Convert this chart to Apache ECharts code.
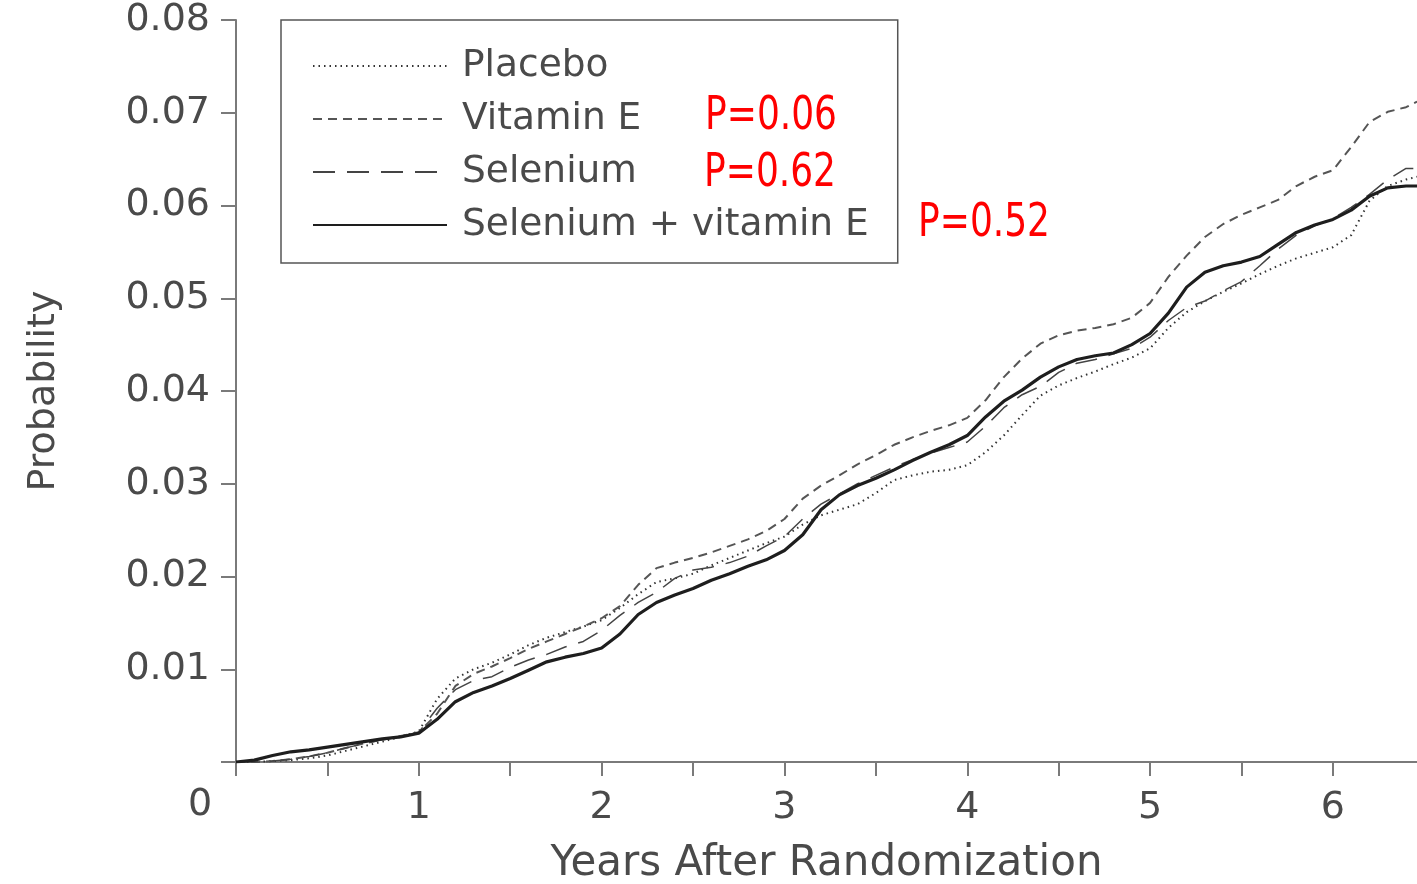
<!DOCTYPE html>
<html>
<head>
<meta charset="utf-8">
<script src="https://cdn.jsdelivr.net/npm/echarts@6/dist/echarts.min.js"></script>
<style>
  html, body { margin: 0; padding: 0; background: #fff; }
  #chart { width: 1417px; height: 884px; }
</style>
</head>
<body>
<div id="chart"></div>
<script>
// years after randomization
var years = [0, 0.1, 0.2, 0.3, 0.4, 0.5, 0.6, 0.7, 0.8, 0.9,
  1.0, 1.1, 1.2, 1.3, 1.4, 1.5, 1.6, 1.7, 1.8, 1.9,
  2.0, 2.1, 2.2, 2.3, 2.4, 2.5, 2.6, 2.7, 2.8, 2.9,
  3.0, 3.1, 3.2, 3.3, 3.4, 3.5, 3.6, 3.7, 3.8, 3.9,
  4.0, 4.1, 4.2, 4.3, 4.4, 4.5, 4.6, 4.7, 4.8, 4.9,
  5.0, 5.1, 5.2, 5.3, 5.4, 5.5, 5.6, 5.7, 5.8, 5.9,
  6.0, 6.1, 6.2, 6.3, 6.4, 6.46];

var placebo = [0, 0, 0.0001, 0.0002, 0.0004, 0.0007, 0.0012, 0.0017, 0.0022, 0.0027,
  0.0033, 0.0068, 0.0090, 0.0100, 0.0107, 0.0116, 0.0126, 0.0134, 0.0140, 0.0146,
  0.0153, 0.0166, 0.0181, 0.0194, 0.0198, 0.0203, 0.0212, 0.0220, 0.0228, 0.0236,
  0.0243, 0.0256, 0.0266, 0.0272, 0.0278, 0.0290, 0.0304, 0.0309, 0.0313, 0.0315,
  0.0320, 0.0334, 0.0352, 0.0374, 0.0395, 0.0406, 0.0414, 0.0421, 0.0429, 0.0436,
  0.0446, 0.0468, 0.0485, 0.0497, 0.0507, 0.0516, 0.0526, 0.0535, 0.0543, 0.0549,
  0.0555, 0.0568, 0.0605, 0.0621, 0.0628, 0.0631];

var vitaminE = [0, 0, 0.0001, 0.0003, 0.0006, 0.0010, 0.0015, 0.0020, 0.0024, 0.0028,
  0.0032, 0.0052, 0.0082, 0.0095, 0.0103, 0.0112, 0.0122, 0.0130, 0.0138, 0.0146,
  0.0155, 0.0168, 0.0191, 0.0209, 0.0215, 0.0220, 0.0226, 0.0233, 0.0240, 0.0249,
  0.0262, 0.0284, 0.0298, 0.0309, 0.0321, 0.0331, 0.0342, 0.0350, 0.0357, 0.0363,
  0.0371, 0.0390, 0.0415, 0.0435, 0.0451, 0.0460, 0.0465, 0.0468, 0.0472, 0.0479,
  0.0495, 0.0523, 0.0546, 0.0566, 0.0580, 0.0590, 0.0598, 0.0606, 0.0621, 0.0631,
  0.0638, 0.0663, 0.0690, 0.0701, 0.0706, 0.0712];

var selenium = [0, 0, 0.0001, 0.0003, 0.0006, 0.0010, 0.0015, 0.0020, 0.0024, 0.0028,
  0.0032, 0.0058, 0.0078, 0.0088, 0.0092, 0.0102, 0.0110, 0.0116, 0.0124, 0.0130,
  0.0142, 0.0158, 0.0172, 0.0183, 0.0198, 0.0207, 0.0210, 0.0215, 0.0222, 0.0233,
  0.0243, 0.0262, 0.0278, 0.0289, 0.0300, 0.0309, 0.0318, 0.0326, 0.0333, 0.0339,
  0.0345, 0.0362, 0.0382, 0.0396, 0.0405, 0.0420, 0.0430, 0.0434, 0.0440, 0.0446,
  0.0458, 0.0476, 0.0490, 0.0497, 0.0508, 0.0518, 0.0535, 0.0553, 0.0568, 0.0578,
  0.0586, 0.0598, 0.0612, 0.0628, 0.0640, 0.0640];

var seleniumVitE = [0, 0.0002, 0.0007, 0.0011, 0.0013, 0.0016, 0.0019, 0.0022, 0.0025, 0.0027,
  0.0031, 0.0046, 0.0065, 0.0075, 0.0082, 0.0090, 0.0099, 0.0108, 0.0113, 0.0117,
  0.0123, 0.0138, 0.0159, 0.0172, 0.0180, 0.0187, 0.0196, 0.0203, 0.0211, 0.0218,
  0.0228, 0.0245, 0.0272, 0.0288, 0.0298, 0.0306, 0.0315, 0.0325, 0.0334, 0.0342,
  0.0352, 0.0372, 0.0389, 0.0401, 0.0415, 0.0426, 0.0434, 0.0438, 0.0441, 0.0450,
  0.0462, 0.0484, 0.0512, 0.0528, 0.0535, 0.0539, 0.0545, 0.0558, 0.0571, 0.0579,
  0.0585, 0.0595, 0.0610, 0.0619, 0.0621, 0.0621];

var seriesNames = ['Placebo', 'Vitamin E', 'Selenium', 'Selenium + vitamin E'];
var pValues = ['P=0.06', 'P=0.62', 'P=0.52'];
var yTicks = [0, 0.01, 0.02, 0.03, 0.04, 0.05, 0.06, 0.07, 0.08];
var xTicks = [0, 0.5, 1, 1.5, 2, 2.5, 3, 3.5, 4, 4.5, 5, 5.5, 6];
var xLabels = [1, 2, 3, 4, 5, 6];

function pairs(vals) {
  return years.map(function (t, i) { return [t, vals[i]]; });
}

var font = 'DejaVu Sans';
var txt = '#4a4a4a';
var axisCol = '#7a7a7a';
var redFont = "46px 'Liberation Sans Narrow', 'DejaVu Sans Condensed', sans-serif";

var chart = echarts.init(document.getElementById('chart'));
chart.setOption({
  animation: false,
  grid: { left: 236, top: 20, right: 0, bottom: 122, outerBoundsMode: 'none', containLabel: false },
  xAxis: {
    type: 'value', min: 0, max: 6.46, interval: 0.5,
    name: 'Years After Randomization', nameLocation: 'middle', nameGap: 81,
    nameTextStyle: { fontFamily: font, fontSize: 42, color: txt },
    axisLine: { lineStyle: { color: axisCol, width: 2 } },
    axisTick: { length: 14, customValues: xTicks, lineStyle: { color: axisCol, width: 2 } },
    axisLabel: {
      margin: 27, fontFamily: font, fontSize: 38, color: txt,
      customValues: xLabels
    },
    splitLine: { show: false }
  },
  yAxis: {
    type: 'value', min: 0, max: 0.08, interval: 0.01,
    name: 'Probability', nameLocation: 'middle', nameGap: 173, nameRotate: 90,
    nameTextStyle: { fontFamily: font, fontSize: 38, color: txt },
    axisLine: { show: true, lineStyle: { color: axisCol, width: 2 } },
    axisTick: { show: true, length: 15, lineStyle: { color: axisCol, width: 2 } },
    axisLabel: {
      margin: 26, fontFamily: font, fontSize: 38, color: txt,
      formatter: function (v) {
        var i = yTicks.indexOf(Math.round(v * 100) / 100);
        return i > 0 ? yTicks[i].toFixed(2) : '';
      }
    },
    splitLine: { show: false }
  },
  legend: {
    orient: 'vertical', left: 281, top: 20,
    data: seriesNames,
    itemWidth: 134, itemHeight: 16, itemGap: 15,
    padding: [27, 29, 19, 31],
    borderColor: '#555', borderWidth: 1.5,
    itemStyle: { opacity: 0 },
    textStyle: { fontFamily: font, fontSize: 37.5, color: txt, padding: [0, 0, 0, 10] },
    selectedMode: false
  },
  series: [
    { name: seriesNames[0], type: 'line', data: pairs(placebo), symbol: 'none',
      lineStyle: { color: '#333', width: 2, type: [1.5, 4] } },
    { name: seriesNames[1], type: 'line', data: pairs(vitaminE), symbol: 'none',
      lineStyle: { color: '#555', width: 2, type: [9, 6] } },
    { name: seriesNames[2], type: 'line', data: pairs(selenium), symbol: 'none',
      lineStyle: { color: '#444', width: 1.5, type: [22, 12] } },
    { name: seriesNames[3], type: 'line', data: pairs(seleniumVitE), symbol: 'none',
      lineStyle: { color: '#1e1e1e', width: 3.2 } }
  ],
  graphic: [
    { type: 'text', x: 200, y: 805, style: { text: '0', font: '38px ' + font, fill: txt, align: 'center', verticalAlign: 'middle' } },
    { type: 'text', x: 705, y: 117, scaleX: 0.87, style: { text: pValues[0], font: redFont, fill: '#ff0000', verticalAlign: 'middle' } },
    { type: 'text', x: 704, y: 174, scaleX: 0.87, style: { text: pValues[1], font: redFont, fill: '#ff0000', verticalAlign: 'middle' } },
    { type: 'text', x: 918, y: 224, scaleX: 0.87, style: { text: pValues[2], font: redFont, fill: '#ff0000', verticalAlign: 'middle' } }
  ]
});
</script>
</body>
</html>
